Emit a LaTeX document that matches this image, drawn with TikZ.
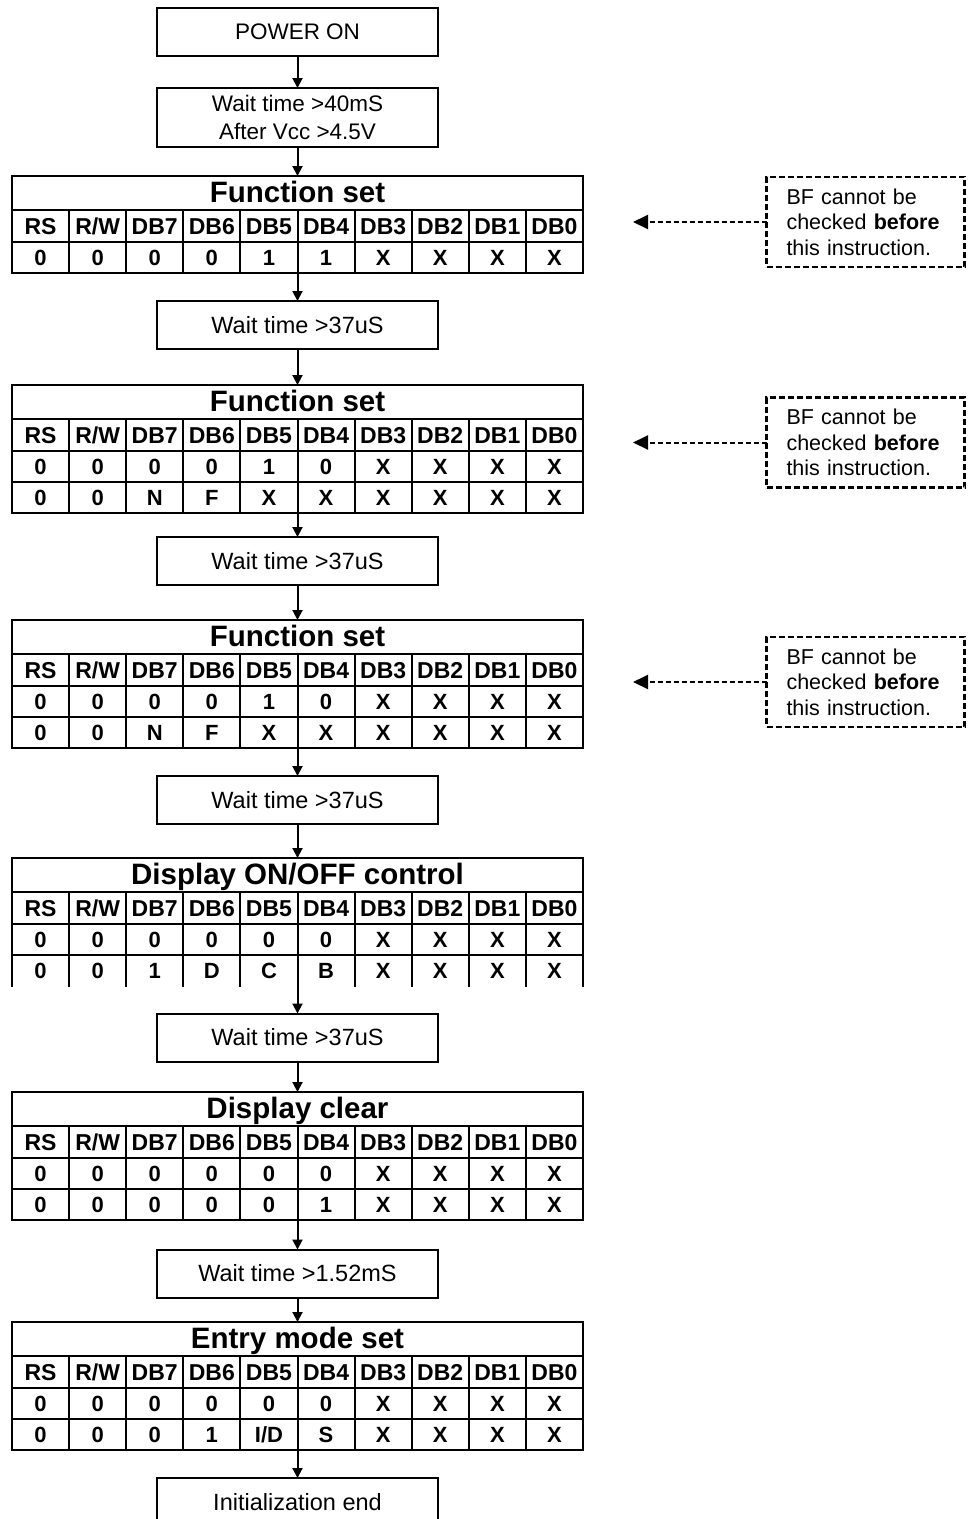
\documentclass[tikz,border=0pt]{standalone}
\usepackage{fontspec}
\setmainfont{Liberation Sans}
\usetikzlibrary{arrows.meta}
\tikzset{
  x=1pt,y=-1pt,
  every node/.style={inner sep=0pt, outer sep=0pt},
  procbox/.style={draw, line width=2pt, minimum width=281pt, minimum height=48pt, align=center, font=\fontsize{23.5}{28}\selectfont},
  tline/.style={line width=2pt},
  titlefont/.style={font=\fontsize{29.5}{30}\selectfont\bfseries, text height=21pt, text depth=0pt},
  hdrcell/.style={font=\fontsize{23}{24}\selectfont\bfseries, text height=16.5pt, text depth=0pt},
  datcell/.style={font=\fontsize{22}{24}\selectfont\bfseries, text height=16pt, text depth=0pt},
  flow/.style={line width=2pt, -{Triangle[width=10pt,length=10pt]}},
  bfbox/.style={draw, line width=2.2pt, dash pattern=on 6pt off 3pt, text width=158pt, inner xsep=20pt, minimum height=90pt, align=left, font=\fontsize{21.5}{25.5}\selectfont},
  bfarrow/.style={line width=2pt, dash pattern=on 5pt off 3pt, -{Triangle[width=14pt,length=15pt]}},
}
% #1 name, #2 top, #3 title, #4 number of data rows, #5 bottom line (1/0)
\newcommand{\insttable}[5]{%
  \pgfmathsetmacro{\tbot}{#2+66+31*#4}%
  \pgfmathsetmacro{\tH}{66+31*#4}%
  \node[minimum width=571pt, minimum height=\tH pt, anchor=north] (#1) at (297.5,#2) {};
  \node[titlefont] (#1-title) at (297.5,{#2+16}) {#3};
  \draw[tline] (12,#2) -- (583,#2);
  \draw[tline] (12,{#2+34}) -- (583,{#2+34});
  \draw[tline] (12,{#2+66}) -- (583,{#2+66});
  \ifnum#4>1 \draw[tline] (12,{#2+97}) -- (583,{#2+97}); \fi
  \ifnum#5=1 \draw[tline] (12,\tbot) -- (583,\tbot); \fi
  \draw[tline] (12,{#2-1}) -- (12,{\tbot+1}) (583,{#2-1}) -- (583,{\tbot+1});
  \foreach \k in {1,...,9} \draw[tline] ({12+57.1*\k},{#2+34}) -- ({12+57.1*\k},{\tbot+1});
  \foreach \t [count=\i] in {RS,R/W,DB7,DB6,DB5,DB4,DB3,DB2,DB1,DB0}
    \node[hdrcell] (#1-h\i) at ({12+57.1*(\i-0.5)},{#2+50}) {\t};
}
% #1 name, #2 y centre, #3 values
\newcommand{\datrow}[3]{%
  \foreach \v [count=\i] in {#3} \node[datcell] (#1-\i) at ({12+57.1*(\i-0.5)},#2) {\v};
}
\begin{document}
\begin{tikzpicture}
\clip (0,0) rectangle (972,1519);

\node[procbox, font=\fontsize{22.5}{28}\selectfont] (pon) at (297.5,31.5) {POWER ON};
\node[procbox, minimum height=59pt, font=\fontsize{22.5}{28}\selectfont] (w0) at (297.5,117.5) {Wait time >40mS\\After Vcc >4.5V};

\insttable{fs1}{176}{Function set}{1}{1}
\datrow{fs1-r1}{257.5}{0,0,0,0,1,1,X,X,X,X}

\node[procbox] (w1) at (297.5,325) {Wait time >37uS};

\insttable{fs2}{385}{Function set}{2}{1}
\datrow{fs2-r1}{466.5}{0,0,0,0,1,0,X,X,X,X}
\datrow{fs2-r2}{497.5}{0,0,N,F,X,X,X,X,X,X}

\node[procbox] (w2) at (297.5,561) {Wait time >37uS};

\insttable{fs3}{620}{Function set}{2}{1}
\datrow{fs3-r1}{701.5}{0,0,0,0,1,0,X,X,X,X}
\datrow{fs3-r2}{732.5}{0,0,N,F,X,X,X,X,X,X}

\node[procbox] (w3) at (297.5,800) {Wait time >37uS};

\insttable{doc}{858}{Display ON/OFF control}{2}{0}
\datrow{doc-r1}{939.5}{0,0,0,0,0,0,X,X,X,X}
\datrow{doc-r2}{970.5}{0,0,1,D,C,B,X,X,X,X}

\node[procbox] (w4) at (297.5,1037.5) {Wait time >37uS};

\insttable{dc}{1092}{Display clear}{2}{1}
\datrow{dc-r1}{1173.5}{0,0,0,0,0,0,X,X,X,X}
\datrow{dc-r2}{1204.5}{0,0,0,0,0,1,X,X,X,X}

\node[procbox] (w5) at (297.5,1273.5) {Wait time >1.52mS};

\insttable{em}{1322}{Entry mode set}{2}{1}
\datrow{em-r1}{1403.5}{0,0,0,0,0,0,X,X,X,X}
\datrow{em-r2}{1434.5}{0,0,0,1,I/D,S,X,X,X,X}

\node[procbox] (ie) at (297.5,1502) {Initialization end};

\draw[flow] (pon) -- (w0);
\draw[flow] (w0) -- (fs1);
\draw[flow] (fs1) -- (w1);
\draw[flow] (w1) -- (fs2);
\draw[flow] (fs2) -- (w2);
\draw[flow] (w2) -- (fs3);
\draw[flow] (fs3) -- (w3);
\draw[flow] (w3) -- (doc);
\draw[flow] (doc) -- (w4);
\draw[flow] (w4) -- (dc);
\draw[flow] (dc) -- (w5);
\draw[flow] (w5) -- (em);
\draw[flow] (em) -- (ie);

\node[bfbox] (bf1) at (865.5,222) {BF cannot be\\checked \textbf{before}\\this instruction.};
\node[bfbox] (bf2) at (865.5,442.5) {BF cannot be\\checked \textbf{before}\\this instruction.};
\node[bfbox] (bf3) at (865.5,682) {BF cannot be\\checked \textbf{before}\\this instruction.};
\coordinate (t1) at (633,222);
\coordinate (t2) at (633,442.5);
\coordinate (t3) at (633,682);
\draw[bfarrow] (bf1.west) -- (t1);
\draw[bfarrow] (bf2.west) -- (t2);
\draw[bfarrow] (bf3.west) -- (t3);
\end{tikzpicture}
\end{document}
